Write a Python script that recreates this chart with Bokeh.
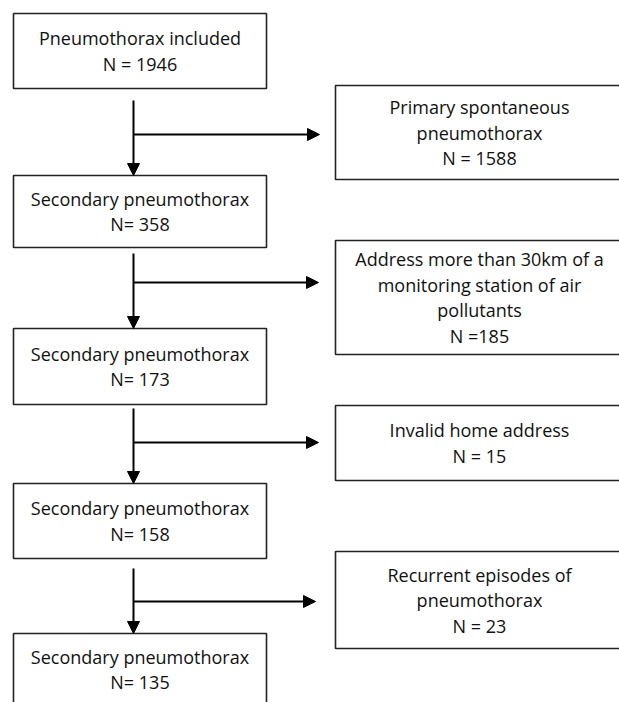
from bokeh.plotting import figure
from bokeh.models import Range1d, Arrow, NormalHead
from bokeh.core.properties import value
from bokeh.embed import file_html
from bokeh.resources import INLINE

# ---- data ----
left_labels = ["Pneumothorax included", "Secondary pneumothorax", "Secondary pneumothorax",
               "Secondary pneumothorax", "Secondary pneumothorax"]
left_counts = [1946, 358, 173, 158, 135]
left_eq = ["N = ", "N= ", "N= ", "N= ", "N= "]

right_labels = ["Primary spontaneous\npneumothorax",
                "Address more than 30km of a\nmonitoring station of air\npollutants",
                "Invalid home address",
                "Recurrent episodes of\npneumothorax"]
right_counts = [1588, 185, 15, 23]
right_eq = ["N = ", "N =", "N = ", "N = "]

# ---- layout (pixel coordinates) ----
W, H = 619, 702
FONT = "Open Sans"
FS = "18px"
LINE = 25.5

left_x = (13, 266)
left_y = [(13, 88), (175, 247), (328, 404), (483, 558), (633, 760)]
right_x = (335, 640)
right_y = [(85, 179), (240, 354), (405, 480), (551, 648)]
stem_x = 133
stem_start = [100, 253, 408, 568]
branch_y = [134, 282, 442, 601]
branch_tip = [319, 318, 318, 315]

p = figure(width=W, height=H, output_backend="svg", toolbar_location=None,
           x_range=Range1d(0, W), y_range=Range1d(H, 0), min_border=0)
p.axis.visible = False
p.grid.visible = False
p.outline_line_color = None
p.background_fill_color = "white"
p.border_fill_color = "white"

box_color = "#222222"

def boxes(xr, yr):
    p.quad(left=[xr[0]] * len(yr), right=[xr[1]] * len(yr),
           top=[a for a, b in yr], bottom=[b for a, b in yr],
           fill_color="white", line_color=box_color, line_width=1.6)

boxes(left_x, left_y)
boxes(right_x, right_y)

def texts(xr, yr, labels, eqs, counts):
    xs, ys, ts = [], [], []
    cx = (xr[0] + xr[1]) / 2
    for (a, b), lab, eq, c in zip(yr, labels, eqs, counts):
        lines = lab.split("\n") + [f"{eq}{c}"]
        cy = a + 36 if b > H else (a + b) / 2
        n = len(lines)
        for i, t in enumerate(lines):
            xs.append(cx)
            ys.append(cy + (i - (n - 1) / 2) * LINE)
            ts.append(t)
    p.text(x=xs, y=ys, text=ts, text_font=value(FONT), text_font_size=value(FS),
           text_align="center", text_baseline="middle", text_color="#111111")

texts(left_x, left_y, left_labels, left_eq, left_counts)
texts((335, 623), right_y, right_labels, right_eq, right_counts)

# connectors
for i in range(4):
    tip = left_y[i + 1][0]
    p.add_layout(Arrow(end=NormalHead(size=12, fill_color="black", line_color="black"),
                       x_start=stem_x, y_start=stem_start[i], x_end=stem_x, y_end=tip,
                       line_color="black", line_width=2))
    p.add_layout(Arrow(end=NormalHead(size=12, fill_color="black", line_color="black"),
                       x_start=stem_x, y_start=branch_y[i], x_end=branch_tip[i], y_end=branch_y[i],
                       line_color="black", line_width=2))

open("out.html", "w").write(file_html(p, INLINE))
